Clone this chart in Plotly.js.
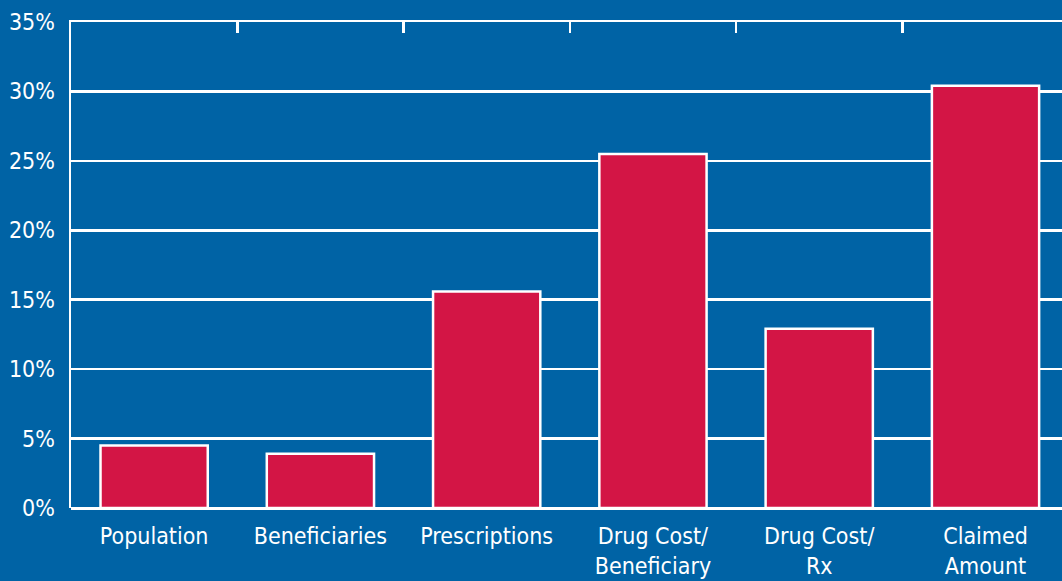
<!DOCTYPE html>
<html>
<head>
<meta charset="utf-8">
<script src="https://cdn.plot.ly/plotly-3.0.1.min.js"></script>
<style>
  html, body { margin: 0; padding: 0; background: #0063A5; }
  #chart { width: 1062px; height: 581px; }
</style>
</head>
<body>
<div id="chart"></div>
<script>
// Growth by measure, in percent
const categories = [
  "Population",
  "Beneficiaries",
  "Prescriptions",
  "Drug Cost/<br>Beneficiary",
  "Drug Cost/<br>Rx",
  "Claimed<br>Amount"
];
const growthPct = [4.5, 3.9, 15.6, 25.5, 12.9, 30.4];
const yTickVals = [0, 5, 10, 15, 20, 25, 30, 35];
const yTickText = ["0%", "5%", "10%", "15%", "20%", "25%", "30%", "35%"];

const BG = "#0063A5";
const BAR = "#D31545";
const WHITE = "#FFFFFF";
const FONT = "DejaVu Sans Condensed, Lato, sans-serif";

const positions = categories.map((_, i) => i);
// divider ticks between neighbouring categories, drawn from the top edge
const dividers = categories.slice(1).map((_, i) => i + 0.5);

const bars = {
  type: "bar",
  x: positions,
  y: growthPct,
  width: 0.645,
  marker: { color: BAR, line: { color: WHITE, width: 2.5 } },
  hoverinfo: "skip"
};

// invisible trace that carries the top axis with its divider ticks
const topAxisCarrier = {
  type: "scatter",
  x: dividers,
  y: dividers.map(() => 35),
  xaxis: "x2",
  mode: "markers",
  marker: { opacity: 0 },
  hoverinfo: "skip",
  showlegend: false
};

const xRange = [-0.5, 5.46];

const layout = {
  width: 1062,
  height: 581,
  paper_bgcolor: BG,
  plot_bgcolor: BG,
  margin: { l: 71, r: 0, t: 22, b: 73 },
  showlegend: false,
  font: { family: FONT, color: WHITE, size: 23 },
  xaxis: {
    range: xRange,
    tickmode: "array",
    tickvals: positions,
    ticktext: categories,
    showgrid: false,
    zeroline: false,
    showline: false,
    ticks: "",
    ticklabelstandoff: 12,
    tickfont: { family: FONT, size: 23, color: WHITE },
    fixedrange: true
  },
  xaxis2: {
    overlaying: "x",
    side: "top",
    range: xRange,
    tickmode: "array",
    tickvals: dividers,
    showticklabels: false,
    ticks: "inside",
    ticklen: 11,
    tickwidth: 2.5,
    tickcolor: WHITE,
    showgrid: false,
    zeroline: false,
    showline: true,
    linecolor: WHITE,
    linewidth: 2.5
  },
  yaxis: {
    range: [0, 35],
    tickmode: "array",
    tickvals: yTickVals,
    ticktext: yTickText,
    showgrid: true,
    gridcolor: WHITE,
    gridwidth: 2.5,
    zeroline: true,
    zerolinecolor: WHITE,
    zerolinewidth: 3,
    showline: true,
    linecolor: WHITE,
    linewidth: 2.5,
    ticks: "",
    ticklabelstandoff: 9,
    tickfont: { family: FONT, size: 23, color: WHITE },
    fixedrange: true
  }
};

Plotly.newPlot("chart", [bars, topAxisCarrier], layout, { displayModeBar: false, staticPlot: true });
</script>
</body>
</html>
